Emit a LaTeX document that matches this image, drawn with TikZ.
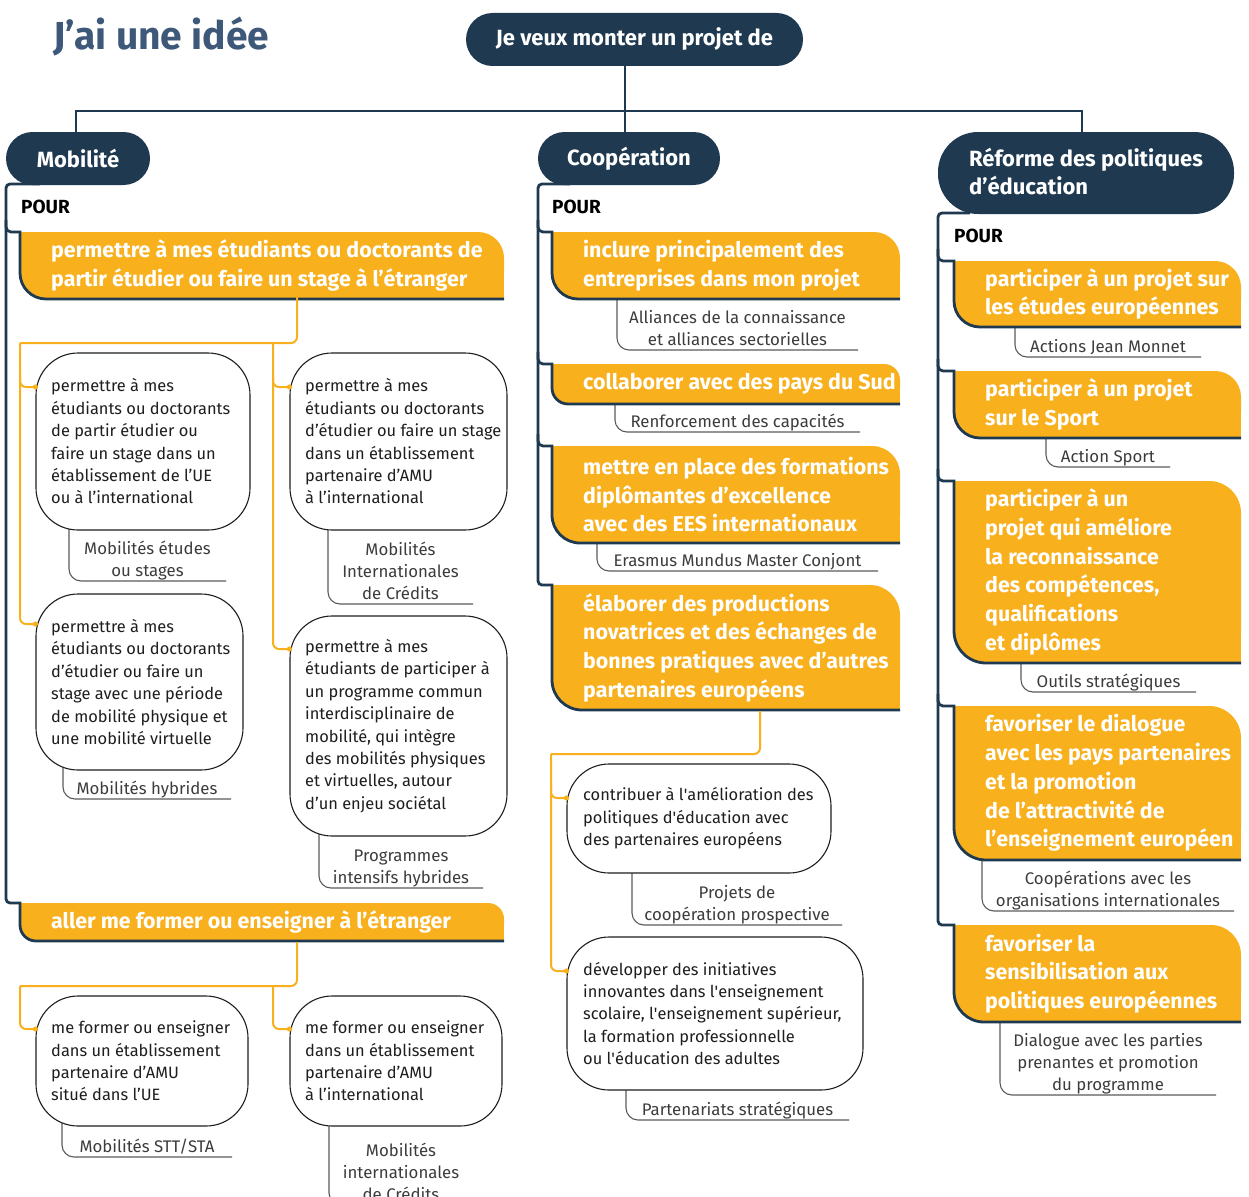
\documentclass[tikz,border=0pt]{standalone}
\usepackage{fontspec}
\setmainfont{Fira Sans}
\usetikzlibrary{calc}
\definecolor{navy}{RGB}{31,58,80}
\definecolor{yel}{RGB}{248,176,29}
\definecolor{ttl}{RGB}{62,88,122}
\definecolor{txt}{RGB}{30,30,30}
\definecolor{lbl}{RGB}{60,60,60}
\definecolor{lblline}{RGB}{90,90,90}
% yellow box: radius, name, x1, y1, x2, y2, text
\newcommand\ybx[7]{%
  \fill[yel,rounded corners=#1pt] (#3,#4) rectangle (#5,#6);
  \fill[yel] (#3,#4) rectangle ++({#1+1},{#1+1});
  \fill[yel] (#5,#6) rectangle ++({-#1-1},{-#1-1});
  \draw[nvl,rounded corners=#1pt] (#3,#4) -- (#3,#6) -- (#5,#6);
  \node[ytext,anchor=west] (#2) at ({#3+31},{(#4+#6)/2}) {#7};}
% branch from column line: colx, y, x1
\newcommand\brn[3]{\draw[nvl,rounded corners=5pt] (#1,{#2-12}) -- (#1,#2) -- ({#3+1.4},#2);}
% label: name, xv, ytop, yline, xend, text
\newcommand\lbx[6]{%
  \draw[lline] (#2,{#3-8}) -- (#2,#4) -- (#5,#4);
  \node[ltext] (#1) at ({(#2+#5)/2},#4) {#6\rule[-4pt]{0pt}{4pt}};}
% white box: name, cx, cy, w, h, textx, text
\newcommand\wbx[7]{%
  \node[wbox,minimum width=#4pt,minimum height=#5pt] (#1) at (#2,#3) {};
  \node[btext,anchor=west] (#1t) at (#6,#3) {#7};}
\begin{document}
\begin{tikzpicture}[x=1pt,y=-1pt,
  nvl/.style={draw=navy,line width=2.8pt},
  orl/.style={draw=yel,line width=2pt,rounded corners=6pt},
  pill/.style={fill=navy,text=white,font=\fontsize{22}{28}\selectfont\bfseries,inner sep=0pt},
  ytext/.style={text=white,font=\fontsize{21.4}{28.7}\selectfont\bfseries,align=left,inner sep=0pt},
  wbox/.style={draw=txt,line width=1.1pt,fill=white,rounded corners=42pt,inner sep=0pt},
  btext/.style={text=txt,font=\fontsize{16.4}{22.4}\selectfont,align=left,inner sep=0pt},
  lline/.style={draw=lblline,line width=1.1pt,rounded corners=12pt},
  ltext/.style={text=lbl,font=\fontsize{16.8}{22.4}\selectfont,align=center,inner sep=0pt,anchor=south},
  pour/.style={font=\fontsize{19}{22}\selectfont\bfseries,text=black,anchor=base west,inner sep=0pt},
  dot/.style={fill=yel}
]
\useasboundingbox (0,0) rectangle (1249,1196);

% title
\node[anchor=base west,text=ttl,font=\fontsize{39}{46}\selectfont\bfseries,inner sep=0pt] (title) at (53,50) {J’ai une idée};

% top structure
\node[pill,minimum width=337pt,minimum height=53pt,rounded corners=26.5pt] (top) at (634.5,39.5) {Je veux monter un projet de};
\node[pill,minimum width=144pt,minimum height=53pt,rounded corners=26.5pt] (mob) at (78,158.5) {Mobilité};
\node[pill,minimum width=182pt,minimum height=53pt,rounded corners=26.5pt] (coop) at (629,158.5) {Coopération};
\node[fill=navy,minimum width=296pt,minimum height=82pt,rounded corners=40pt,inner sep=0pt] (ref) at (1086,173) {};
\node[pill,fill=none,align=left,anchor=west] (reft) at (969,172) {Réforme des politiques\\d’éducation};
\draw[nvl] (top.south -| 625,0) -- (coop.north -| 625,0);
\draw[nvl] (mob.north -| 76,0) -- (76,111) -- (1082,111) -- (ref.north -| 1082,0);

% column lines
\draw[nvl,rounded corners=4pt] (40,184) -- (6,184) -- (6,903) -- (21.4,903);
\draw[nvl,rounded corners=4pt] (570,184) -- (538,184) -- (538,585) -- (553.4,585);
\draw[nvl,rounded corners=4pt] (970,213) -- (938,213) -- (938,925) -- (955.4,925);
\node[pour] (pour1) at (21,213) {POUR};
\node[pour] (pour2) at (552,213) {POUR};
\node[pour] (pour3) at (954,242) {POUR};

% labels (drawn first, boxes cover their tops)
\lbx{la}{69}{530}{581}{226}{Mobilités études\\ou stages}
\lbx{lb}{328}{530}{604}{473}{Mobilités\\Internationales\\de Crédits}
\lbx{lc}{63}{770}{799}{231}{Mobilités hybrides}
\lbx{ld}{319}{836}{888}{483}{Programmes\\intensifs hybrides}
\lbx{le}{62}{1126}{1157}{232}{Mobilités STT/STA}
\lbx{lf}{329}{1126}{1205}{473}{Mobilités\\internationales\\de Crédits}
\lbx{lg}{617}{299}{350}{858}{Alliances de la connaissance\\et alliances sectorielles}
\lbx{lh}{615}{404}{432}{860}{Renforcement des capacités}
\lbx{li}{597}{543}{571}{878}{Erasmus Mundus Master Conjont}
\lbx{lj}{632}{873}{925}{842}{Projets de\\coopération prospective}
\lbx{lk}{626}{1090}{1120}{849}{Partenariats stratégiques}
\lbx{ll}{1015}{327}{357}{1201}{Actions Jean Monnet}
\lbx{lm}{1046}{438}{467}{1170}{Action Sport}
\lbx{ln}{1021}{663}{692}{1196}{Outils stratégiques}
\lbx{lo}{982}{860}{911}{1234}{Coopérations avec les\\organisations internationales}
\lbx{lp}{1000}{1022}{1095}{1216}{Dialogue avec les parties\\prenantes et promotion\\du programme}

% Mobilité column
\brn{6}{232}{20}
\ybx{26}{y1}{20}{232}{504}{299}{permettre à mes étudiants ou doctorants de\\partir étudier ou faire un stage à l’étranger}
\ybx{16}{y2}{20}{903}{504}{941}{aller me former ou enseigner à l’étranger}

% Coopération column
\brn{538}{232}{552}
\brn{538}{364}{552}
\brn{538}{446}{552}
\ybx{26}{c1}{552}{232}{900}{299}{inclure principalement des\\entreprises dans mon projet}
\ybx{16}{c2}{552}{364}{900}{404}{collaborer avec des pays du Sud}
\ybx{28}{c3}{552}{446}{900}{543}{mettre en place des formations\\diplômantes d’excellence\\avec des EES internationaux}
\ybx{30}{c4}{552}{585}{900}{710}{élaborer des productions\\novatrices et des échanges de\\bonnes pratiques avec d’autres\\partenaires européens}

% Réforme column
\brn{938}{261}{954}
\brn{938}{371}{954}
\brn{938}{481}{954}
\brn{938}{706}{954}
\ybx{26}{r1}{954}{261}{1241}{327}{participer à un projet sur\\les études européennes}
\ybx{26}{r2}{954}{371}{1241}{438}{participer à un projet\\sur le Sport}
\ybx{32}{r3}{954}{481}{1241}{663}{participer à un\\projet qui améliore\\la reconnaissance\\des compétences,\\qualifications\\et diplômes}
\ybx{32}{r4}{954}{706}{1241}{860}{favoriser le dialogue\\avec les pays partenaires\\et la promotion\\de l’attractivité de\\l’enseignement européen}
\ybx{30}{r5}{954}{925}{1241}{1022}{favoriser la\\sensibilisation aux\\politiques européennes}

% white boxes
\wbx{w1}{143}{441.5}{214}{177}{51}{permettre à mes\\étudiants ou doctorants\\de partir étudier ou\\faire un stage dans un\\établissement de l’UE\\ou à l’international}
\wbx{w2}{398.5}{441.5}{217}{177}{305}{permettre à mes\\étudiants ou doctorants\\d’étudier ou faire un stage\\dans un établissement\\partenaire d’AMU\\à l’international}
\wbx{w3}{139.5}{682}{207}{176}{51}{permettre à mes\\étudiants ou doctorants\\d’étudier ou faire un\\stage avec une période\\de mobilité physique et\\une mobilité virtuelle}
\wbx{w4}{398.5}{726}{217}{220}{305}{permettre à mes\\étudiants de participer à\\un programme commun\\interdisciplinaire de\\mobilité, qui intègre\\des mobilités physiques\\et virtuelles, autour\\d’un enjeu sociétal}
\wbx{w5}{142}{1061}{212}{130}{51}{me former ou enseigner\\dans un établissement\\partenaire d’AMU\\situé dans l’UE}
\wbx{w6}{396}{1061}{212}{130}{305}{me former ou enseigner\\dans un établissement\\partenaire d’AMU\\à l’international}
\wbx{w7}{699}{818.5}{264}{109}{583}{contribuer à l\textquotesingle amélioration des\\politiques d\textquotesingle éducation avec\\des partenaires européens}
\wbx{w8}{715}{1013.5}{296}{153}{583}{développer des initiatives\\innovantes dans l\textquotesingle enseignement\\scolaire, l\textquotesingle enseignement supérieur,\\la formation professionnelle\\ou l\textquotesingle éducation des adultes}

% orange connectors
\draw[orl] (y1.south -| 297,0) -- (297,343) -- (20,343);
\draw[orl] (20,343) -- (20,624) -- (w3.west |- 0,624);
\draw[orl] (20,375) -- (20,387) -- (w1.west |- 0,387);
\draw[orl] (273,343) -- (273,649) -- (w4.west |- 0,649);
\draw[orl] (273,375) -- (273,387) -- (w2.west |- 0,387);
\fill[dot] (w1.west |- 0,387) circle (2.6pt);
\fill[dot] (w2.west |- 0,387) circle (2.6pt);
\fill[dot] (w3.west |- 0,624) circle (2.6pt);
\fill[dot] (w4.west |- 0,649) circle (2.6pt);

\draw[orl] (297,942) -- (297,986) -- (20,986);
\draw[orl] (20,986) -- (20,1029) -- (w5.west |- 0,1029);
\draw[orl] (273,986) -- (273,1029) -- (w6.west |- 0,1029);
\fill[dot] (w5.west |- 0,1029) circle (2.6pt);
\fill[dot] (w6.west |- 0,1029) circle (2.6pt);

\draw[orl] (760,711) -- (760,754) -- (551,754);
\draw[orl] (551,754) -- (551,971) -- (w8.west |- 0,971);
\draw[orl] (551,785) -- (551,798) -- (w7.west |- 0,798);
\fill[dot] (w7.west |- 0,798) circle (2.6pt);
\fill[dot] (w8.west |- 0,971) circle (2.6pt);
\end{tikzpicture}
\end{document}
